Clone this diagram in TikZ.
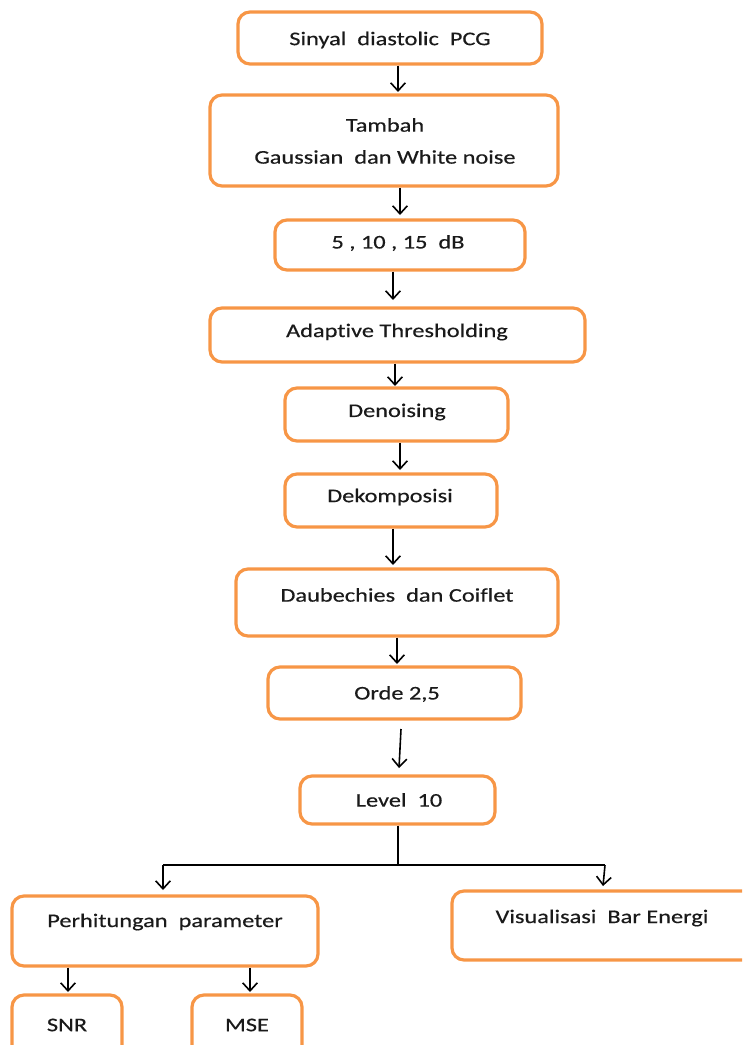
\documentclass[tikz,border=0pt]{standalone}
\usepackage{fontspec}
\setmainfont{Carlito}[FakeStretch=1.26, FakeBold=0.4, Ligatures=NoCommon]
\usetikzlibrary{arrows.meta}
\definecolor{boxorange}{HTML}{F79646}
\definecolor{inkdark}{HTML}{1A1A1A}
\tikzset{
  box/.style={draw=boxorange, line width=2.4pt, rounded corners=9pt, fill=white,
              inner sep=0pt},
  txt/.style={font=\fontsize{14.5}{18}\selectfont, text=inkdark, inner sep=0pt, align=center},
  flow/.style={draw=black, line width=1.2pt,
               -{Straight Barb[length=6pt, width=11pt, line width=1.2pt]}},
  wire/.style={draw=black, line width=1.2pt},
}
\begin{document}
\begin{tikzpicture}[x=0.75pt, y=-0.75pt]
  \useasboundingbox (0,0) rectangle (742,1045);
  \clip (0,0) rectangle (742,1045);

  % process boxes (centre, width, height in px)
  \node[box, minimum width=304pt*0.75, minimum height=52pt*0.75] (b1) at (390,38) {};
  \node[box, minimum width=348pt*0.75, minimum height=91pt*0.75] (b2) at (384,140.5) {};
  \node[box, minimum width=250pt*0.75, minimum height=50pt*0.75] (b3) at (400,245) {};
  \node[box, minimum width=375pt*0.75, minimum height=54pt*0.75] (b4) at (397.5,335) {};
  \node[box, minimum width=223pt*0.75, minimum height=53pt*0.75] (b5) at (396.5,414.5) {};
  \node[box, minimum width=212pt*0.75, minimum height=53pt*0.75] (b6) at (391,500.5) {};
  \node[box, minimum width=322pt*0.75, minimum height=67pt*0.75] (b7) at (397,602.5) {};
  \node[box, minimum width=253pt*0.75, minimum height=52pt*0.75] (b8) at (394.5,693) {};
  \node[box, minimum width=195pt*0.75, minimum height=48pt*0.75] (b9) at (397.5,800) {};
  \node[box, minimum width=306pt*0.75, minimum height=70pt*0.75] (b10) at (165,931) {};
  \node[box, minimum width=310pt*0.75, minimum height=69pt*0.75] (b11) at (607,925.5) {};
  \node[box, minimum width=110pt*0.75, minimum height=80pt*0.75] (b12) at (67,1035) {};
  \node[box, minimum width=110pt*0.75, minimum height=80pt*0.75] (b13) at (247,1035) {};

  % labels
  \node[txt] (t1) at (390,40) {Sinyal\ \ diastolic\ \ PCG};
  \node[txt] (t2a) at (385,125) {Tambah};
  \node[txt] (t2b) at (385,157) {Gaussian\ \ dan White noise};
  \node[txt] (t3) at (398,243) {5 , 10 , 15\ \ dB};
  \node[txt] (t4) at (397,332) {Adaptive Thresholding};
  \node[txt] (t5) at (397,412) {Denoising};
  \node[txt] (t6) at (390,497) {Dekomposisi};
  \node[txt] (t7) at (397,595) {Daubechies\ \ dan Coiflet};
  \node[txt] (t8) at (397,694) {Orde 2,5};
  \node[txt] (t9) at (399,800) {Level\ \ 10};
  \node[txt] (t10) at (165,922) {Perhitungan\ \ parameter};
  \node[txt] (t11) at (602,918) {Visualisasi\ \ Bar Energi};
  \node[txt] (t12) at (67,1025) {SNR};
  \node[txt] (t13) at (247,1025) {MSE};

  % main chain
  \draw[flow] (b1.south -| 398,0) -- (398,92);
  \draw[flow] (b2.south -| 400,0) -- (400,215);
  \draw[flow] (b3.south -| 393,0) -- (393,300);
  \draw[flow] (b4.south -| 395,0) -- (395,386);
  \draw[flow] (b5.south -| 400,0) -- (400,470);
  \draw[flow] (b6.south -| 393,0) -- (393,565);
  \draw[flow] (b7.south -| 397,0) -- (397,664);
  \draw[flow] (401,729) -- (399,768);

  % branching
  \coordinate (j) at (398,865);
  \coordinate (jl) at (163,865);
  \coordinate (jr) at (605,865);
  \draw[wire] (b9.south -| j) -- (j);
  \draw[wire] (jl) -- (jr);
  \draw[flow] (jl) -- (163,890);
  \draw[flow] (jr) -- (603,886);
  \draw[flow] (b10.south -| 68,0) -- (68,992);
  \draw[flow] (b10.south -| 250,0) -- (250,992);
\end{tikzpicture}
\end{document}
